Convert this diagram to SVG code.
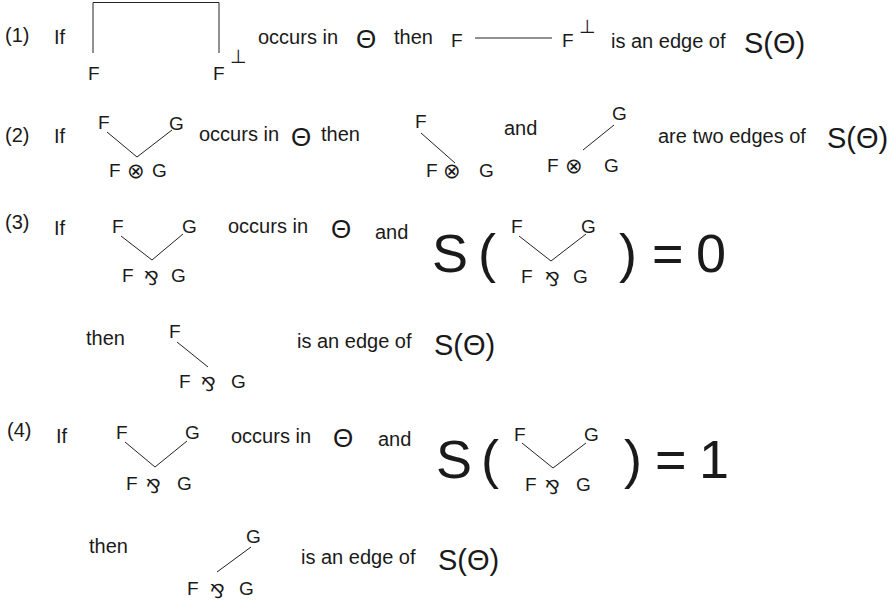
<svg xmlns="http://www.w3.org/2000/svg" width="895" height="603" viewBox="0 0 895 603">
<style>
text{font-family:"Liberation Sans",Arial,sans-serif;fill:#1a1a1a}
.t{font-size:20px}
.n{font-size:19px}
.th{font-size:26px}
.sm{font-size:29px}
.big{font-size:54px}
.sym{font-family:"DejaVu Sans",sans-serif}
.ot{font-size:21px}
.par{font-size:19px}
.perp{font-size:19px}
line,polyline{stroke:#222;stroke-width:1;fill:none}
</style>
<rect width="895" height="603" fill="#fff"/>

<g id="connectors">
  <polyline points="93,53 93,2.5 219,2.5 219,53"/>
  <line x1="475" y1="38" x2="552" y2="38"/>
  <polyline points="107,132 137,157 172,130"/>
  <line x1="421" y1="133" x2="455" y2="163"/>
  <line x1="583" y1="150" x2="614" y2="125"/>
  <polyline points="121,236 152,260 183,234"/>
  <polyline points="519,236 551,261 586,234"/>
  <line x1="177" y1="342" x2="208" y2="367"/>
  <polyline points="125,442 155,467 187,441"/>
  <polyline points="522,443 553,468 586,443"/>
  <line x1="217" y1="572" x2="251" y2="547"/>
</g>

<g id="row1">
  <text class="t" x="5" y="42">(1)</text>
  <text class="t" x="54" y="44">If</text>
  <g id="r1-F"><text class="n" x="88" y="80">F</text></g>
  <g id="r1-Fperp"><text class="n" x="213" y="80">F</text><text class="sym perp" x="230" y="63">⊥</text></g>
  <text class="t" x="258" y="44">occurs in</text>
  <text class="th" x="356" y="48">Θ</text>
  <text class="t" x="394" y="44">then</text>
  <g id="r1-edge-F"><text class="n" x="451" y="47">F</text></g>
  <g id="r1-edge-Fperp"><text class="n" x="562" y="47">F</text><text class="sym perp" x="579" y="33">⊥</text></g>
  <text class="t" x="611" y="48">is an edge of</text>
  <text class="sm" x="744" y="53">S(Θ)</text>
</g>

<g id="row2">
  <text class="t" x="5" y="142">(2)</text>
  <text class="t" x="54" y="143">If</text>
  <g id="r2-F"><text class="n" x="98" y="129">F</text></g>
  <g id="r2-G"><text class="n" x="169" y="130">G</text></g>
  <g id="r2-FxG"><text class="n" x="109" y="177">F</text><text class="sym ot" x="127" y="178">⊗</text><text class="n" x="152" y="177">G</text></g>
  <text class="t" x="199" y="141">occurs in</text>
  <text class="th" x="291" y="146">Θ</text>
  <text class="t" x="321" y="141">then</text>
  <g id="r2-e1-F"><text class="n" x="415" y="128">F</text></g>
  <g id="r2-e1-FxG"><text class="n" x="426" y="177">F</text><text class="sym ot" x="443" y="178">⊗</text><text class="n" x="479" y="177">G</text></g>
  <text class="t" x="504" y="135">and</text>
  <g id="r2-e2-G"><text class="n" x="612" y="120">G</text></g>
  <g id="r2-e2-FxG"><text class="n" x="547" y="172">F</text><text class="sym ot" x="565" y="173">⊗</text><text class="n" x="604" y="172">G</text></g>
  <text class="t" x="658" y="143">are two edges of</text>
  <text class="sm" x="827" y="148">S(Θ)</text>
</g>

<g id="row3">
  <text class="t" x="5" y="229">(3)</text>
  <text class="t" x="54" y="235">If</text>
  <g id="r3-F"><text class="n" x="112" y="233">F</text></g>
  <g id="r3-G"><text class="n" x="182" y="233">G</text></g>
  <g id="r3-FparG"><text class="n" x="122" y="282">F</text><text class="sym par" x="144" y="285">⅋</text><text class="n" x="171" y="282">G</text></g>
  <text class="t" x="228" y="233">occurs in</text>
  <text class="th" x="331" y="238">Θ</text>
  <text class="t" x="375" y="239">and</text>
  <text class="big" x="432" y="272">S</text>
  <text class="big" x="478" y="272">(</text>
  <g id="r3b-F"><text class="n" x="511" y="233">F</text></g>
  <g id="r3b-G"><text class="n" x="581" y="233">G</text></g>
  <g id="r3b-FparG"><text class="n" x="521" y="283">F</text><text class="sym par" x="545" y="286">⅋</text><text class="n" x="573" y="283">G</text></g>
  <text class="big" x="619" y="272">)</text>
  <text class="big" x="652" y="272">=</text>
  <text class="big" x="696" y="272">0</text>
</g>

<g id="row3b">
  <text class="t" x="86" y="345">then</text>
  <g id="r3c-F"><text class="n" x="169" y="338">F</text></g>
  <g id="r3c-FparG"><text class="n" x="179" y="388">F</text><text class="sym par" x="201" y="391">⅋</text><text class="n" x="231" y="388">G</text></g>
  <text class="t" x="297" y="348">is an edge of</text>
  <text class="sm" x="434" y="355">S(Θ)</text>
</g>

<g id="row4">
  <text class="t" x="7" y="437">(4)</text>
  <text class="t" x="56" y="443">If</text>
  <g id="r4-F"><text class="n" x="116" y="439">F</text></g>
  <g id="r4-G"><text class="n" x="185" y="439">G</text></g>
  <g id="r4-FparG"><text class="n" x="126" y="490">F</text><text class="sym par" x="146" y="493">⅋</text><text class="n" x="177" y="490">G</text></g>
  <text class="t" x="231" y="443">occurs in</text>
  <text class="th" x="333" y="447">Θ</text>
  <text class="t" x="378" y="446">and</text>
  <text class="big" x="436" y="478">S</text>
  <text class="big" x="481" y="478">(</text>
  <g id="r4b-F"><text class="n" x="514" y="441">F</text></g>
  <g id="r4b-G"><text class="n" x="584" y="441">G</text></g>
  <g id="r4b-FparG"><text class="n" x="525" y="491">F</text><text class="sym par" x="545" y="494">⅋</text><text class="n" x="576" y="491">G</text></g>
  <text class="big" x="624" y="478">)</text>
  <text class="big" x="655" y="478">=</text>
  <text class="big" x="699" y="478">1</text>
</g>

<g id="row4b">
  <text class="t" x="89" y="553">then</text>
  <g id="r4c-G"><text class="n" x="246" y="543">G</text></g>
  <g id="r4c-FparG"><text class="n" x="187" y="595">F</text><text class="sym par" x="210" y="598">⅋</text><text class="n" x="239" y="595">G</text></g>
  <text class="t" x="301" y="564">is an edge of</text>
  <text class="sm" x="438" y="570">S(Θ)</text>
</g>
</svg>
